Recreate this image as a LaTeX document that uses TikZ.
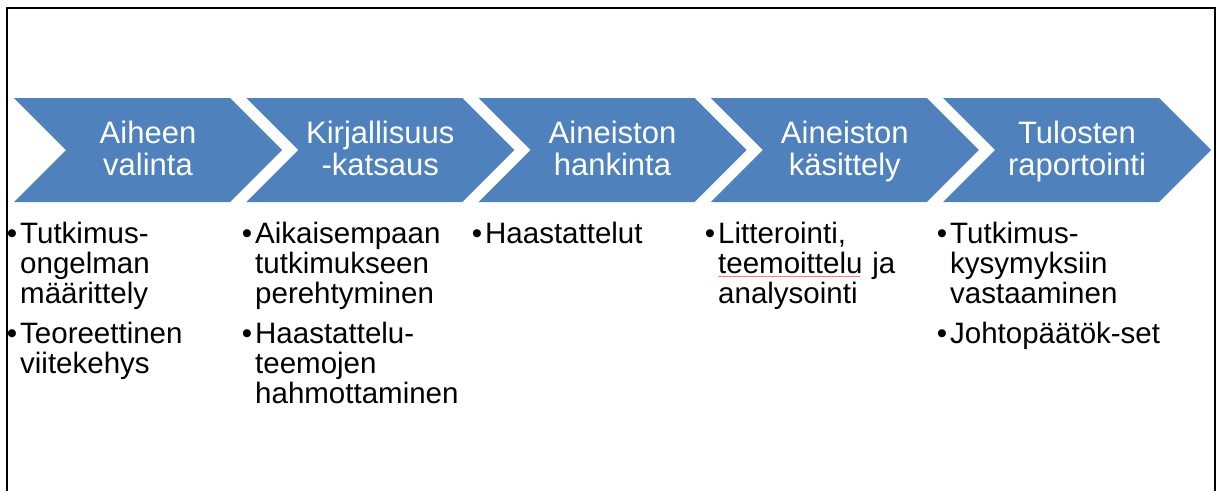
\documentclass[tikz,border=0pt]{standalone}
\usepackage{fontspec}
\setmainfont{Liberation Sans}
\definecolor{chevblue}{HTML}{4F81BD}
\definecolor{spellred}{HTML}{F08080}
% bullet hanging to the left of the item text
\newcommand{\bitem}{\leavevmode\llap{•\hspace{3pt}}}
\begin{document}
\begin{tikzpicture}[x=1pt,y=-1pt,
  chevron/.style={fill=chevblue,draw=none},
  steplabel/.style={text=white,text width=190pt,align=center,inner sep=0pt,
    font=\fontsize{31}{32}\selectfont,anchor=base},
  bulletlist/.style={text=black,text width=250pt,align=left,inner sep=0pt,
    font=\fontsize{29.5}{30}\selectfont,anchor=base west},
  spellline/.style={draw=spellred,line width=0.8pt}]
\useasboundingbox (0,0) rectangle (1220,490);
\clip (0,0) rectangle (1220,490);
\draw[line width=2pt] (7,8) rectangle (1215,500);

% process chevrons with their titles
\foreach \i/\txt in {0/{Aiheen\\valinta},1/{Kirjallisuus\\-katsaus},2/{Aineiston\\hankinta},3/{Aineiston\\käsittely},4/{Tulosten\\raportointi}}{
  \pgfmathsetmacro\L{14+232.25*\i}
  \fill[chevron] (\L,98) -- ++(216,0) -- ++(52,52) -- ++(-52,52) -- ++(-216,0) -- ++(52,-52) -- cycle;
  \node[steplabel] (step\i) at (\L+134,143) {\txt};
}

% task lists under each phase
\node[bulletlist] (list0) at (20,243) {\bitem Tutkimus-\\ongelman\\määrittely\\[10pt]\bitem Teoreettinen\\viitekehys};
\node[bulletlist] (list1) at (255,243) {\bitem Aikaisempaan\\tutkimukseen\\perehtyminen\\[10pt]\bitem Haastattelu-\\teemojen\\hahmottaminen};
\node[bulletlist] (list2) at (485,243) {\bitem Haastattelut};
\node[bulletlist] (list3) at (718,243) {\bitem Litterointi,\\teemoittelu ja\\analysointi};
\node[bulletlist] (list4) at (950,243) {\bitem Tutkimus-\\kysymyksiin\\vastaaminen\\[10pt]\bitem Johtopäätök-set};

% spell-check mark under "teemoittelu"
\path[spellline] ([yshift=-33pt]list3.base west) -- ++(142,0);
\end{tikzpicture}
\end{document}
